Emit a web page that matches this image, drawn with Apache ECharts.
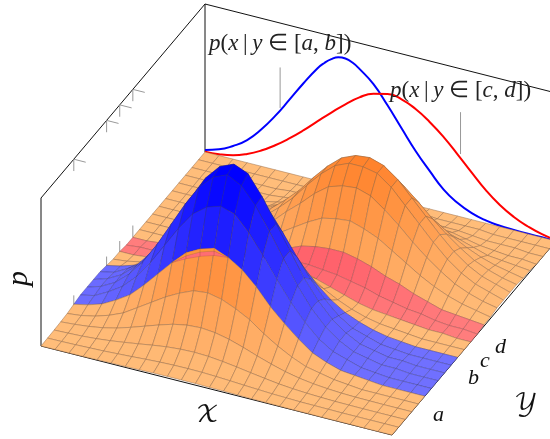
<!DOCTYPE html>
<html>
<head>
<meta charset="utf-8">
<style>
    html, body { margin: 0; padding: 0; background: #fff; }
    #echart { width: 550px; height: 439px; }
</style>
<script src="https://cdn.jsdelivr.net/npm/echarts@6/dist/echarts.min.js"></script>
</head>
<body>
<div id="echart"></div>
<script>
    // surface height p (in %), one row per y sample, one column per x sample
    var surface = [
        [0,0.1,0.1,0.2,0.3,0.5,0.6,0.8,1,1.1,1.1,1.1,0.9,0.8,0.6,0.4,0.3,0.2,0.1,0.1,0,0,0,0,0,0],
        [0.1,0.2,0.4,0.7,1,1.5,2,2.6,3.1,3.4,3.5,3.4,3,2.5,1.9,1.4,0.9,0.6,0.3,0.2,0.1,0,0,0,0,0],
        [0.3,0.6,1,1.7,2.7,4,5.4,6.9,8.2,9,9.3,8.9,7.9,6.6,5.1,3.7,2.4,1.5,0.9,0.5,0.2,0.1,0,0,0,0],
        [0.6,1.3,2.3,3.8,6,8.9,12.1,15.3,18.2,20,20.6,19.7,17.6,14.6,11.2,8.1,5.4,3.4,2,1.1,0.5,0.2,0.1,0,0,0],
        [1,2,4,7,11,17,23,29,34,38,39,37,33,28,21,15,10,6,4,2,1,0,0,0,0,0],
        [2,4,7,12,18,27,37,47,56,61,63,60,54,45,34,25,17,10,6,3,2,1,0,0,0,0],
        [3,5,10,16,25,37,51,65,77,84,87,84,74,61,47,34,23,14,8,5,2,1,0,0,0,0],
        [3,6,11,19,30,44,60,76,90,99,103,98,87,72,56,40,27,17,10,5,3,1,1,0,0,0],
        [3,6,11,19,30,44,60,76,91,101,105,101,88,72,56,40,27,17,10,5,3,1,1,0,0,0],
        [3,5,10,16,25,37,51,65,77,84,87,84,74,61,47,34,23,14,8,5,2,1,0,0,0,0],
        [2,4,7,12,19,27,37,47,56,62,63,61,54,45,35,25,17,11,7,4,2,1,0,0,0,0],
        [1,2,4,7,11,17,23,29,35,39,40,38,35,29,23,17,12,8,5,3,2,1,0,0,0,0],
        [1,1,2,4,6,9,13,16,19,22,23,23,21,19,16,13,10,7,5,4,3,2,1,1,0,0],
        [0,1,1,2,3,5,7,9,11,14,15,17,18,18,17,16,14,12,9,7,5,4,2,1,1,0],
        [0,0,1,1,2,3,4,7,9,12,16,19,23,25,26,26,24,21,17,14,10,7,4,3,2,1],
        [0,0,0,1,2,3,5,8,12,16,22,28,34,39,41,42,39,35,29,23,17,12,8,5,3,1],
        [0,0,0,1,2,3,6,10,15,22,31,39,48,55,58,59,56,49,41,32,24,17,11,7,4,2],
        [0,0,0,1,2,4,7,11,18,26,35,46,56,64,68,68,66,59,49,39,29,20,13,8,5,2],
        [0,0,0,1,2,4,7,11,18,26,35,46,56,64,68,69,66,59,49,39,29,20,13,8,5,2],
        [0,0,0,1,2,3,6,10,15,22,30,39,48,54,58,59,56,49,41,32,24,17,11,7,4,2],
        [0,0,0,1,1,2,4,7,10,15,21,27,33,38,41,41,39,35,29,23,17,12,8,5,3,1],
        [0,0,0,0,1,1,2,4,6,9,12,16,20,22,24,24,23,20,17,13,10,7,4,3,2,1],
        [0,0,0,0,0,1,1,2,3,4,6,8,10,11,12,12,11,10,8,7,5,3,2,1,1,0],
        [0,0,0,0,0,0,0,1,1,2,3,3,4,5,5,5,5,4,3,3,2,1,1,1,0,0],
        [0,0,0,0,0,0,0,0,0,1,1,1,1,2,2,2,2,1,1,1,1,0,0,0,0,0],
        [0,0,0,0,0,0,0,0,0,0,0,0,0,0,0,0,0,0,0,0,0,0,0,0,0,0]
    ];
    // conditional curves on the back wall, same scale; x given in grid cells
    var blueX = [0,1,2,3,4,5,6,7,8,8.5,9,9.5,10,10.5,11,12,13,14,15,16,17,18,19,20,21,22,23,24,25];
    var blueCurve = [1.4,4.2,8.9,15.3,24.8,36.4,49.6,63.1,75.7,80.6,84.4,86.8,87.2,85.7,82.6,74.7,62.8,49.7,36.8,25.7,15.5,8.8,4.4,1.9,0.7,0.3,0.1,0.1,0];
    var redX = [0,1,2,3,4,5,6,7,8,9,10,11,12,13,14,15,16,17,18,19,20,21,22,23,24,25];
    var redCurve = [0.2,0.9,2.6,5.9,10.6,16.6,23.6,31.4,39.9,48.3,56.3,63.4,68.2,70.5,69.3,65.1,58.8,51,41.6,31.8,22.3,14.7,9,5,2.2,0.7];
    var yTicks = [0.2, 0.4, 0.48, 0.56];
    var blueRows = [5, 10];
    var redRows = [12, 14];
    // sliver on top of the front ridge where the far bands show through (row 5, from column 7)
    var capStart = 7;
    var capLow = [47, 52, 56, 59, 60];
    var capMid = [47, 54, 59, 62, 60];
    var capHigh = [47, 56, 61, 64, 60];

    var cells = 25;
    var serif = '"Liberation Serif", serif';

    // oblique view of the (x, y, p) box on the page
    function project(x, y, p) {
        return [41 + 351 * x + 164 * y, 346 + 89 * x - 194 * y - 148 * p];
    }

    function inBand(row, band) {
        return row >= band[0] && row < band[1];
    }

    function cellColor(row, p) {
        var t = Math.min(p, 1);
        if (inBand(row, blueRows)) {
            return 'rgb(' + Math.round(112 * (1 - t)) + ',' + Math.round(112 * (1 - t)) + ',255)';
        }
        if (inBand(row, redRows)) {
            return 'rgb(255,' + Math.round(125 * (1 - t)) + ',' + Math.round(125 - 80 * t) + ')';
        }
        var s = Math.min(p / 0.7, 1);
        return 'rgb(255,' + Math.round(189 - 60 * s) + ',' + Math.round(122 - 80 * s) + ')';
    }

    function cellStroke(row) {
        if (inBand(row, blueRows)) {
            return 'rgba(50,50,120,0.45)';
        }
        if (inBand(row, redRows)) {
            return 'rgba(150,70,70,0.5)';
        }
        return 'rgba(150,105,70,0.6)';
    }

    function curveData(xs, values) {
        return values.map(function(v, i) {
            return project(xs[i] / cells, 1, v / 100);
        });
    }

    // back to front so nearer cells cover the ones behind
    var cellData = [];
    for (var j = cells - 1; j >= 0; j--) {
        for (var i = 0; i < cells; i++) {
            cellData.push([i, j]);
        }
    }

    var frame = [
        [[0, 1, 0], [0, 1, 1]],
        [[0, 0, 0], [0, 0, 1]],
        [[0, 0, 1], [0, 1, 1]],
        [[0, 1, 1], [1, 1, 1]],
        [[0, 0, 0], [1, 0, 0]],
        [[1, 0, 0], [1, 1, 0]]
    ];
    var tickSegs = [];
    yTicks.forEach(function(y) {
        tickSegs.push([[0, y, 1], [0, y, 0.92]]);
        tickSegs.push([[0, y, 1], [0.034, y, 1]]);
        tickSegs.push([[0, y, 0], [0, y, 0.08]]);
    });
    var pinSegs = [
        [[0.214, 1, 0.70], [0.214, 1, 0.426]],
        [[0.728, 1, 0.707], [0.728, 1, 0.424]]
    ];

    function segmentSeries(segs, color, z) {
        return {
            type: 'custom',
            coordinateSystem: 'cartesian2d',
            silent: true,
            z: z,
            data: segs.map(function(s, idx) { return [idx]; }),
            renderItem: function(params, api) {
                var s = segs[api.value(0)];
                var a = api.coord(project(s[0][0], s[0][1], s[0][2]));
                var b = api.coord(project(s[1][0], s[1][1], s[1][2]));
                return {
                    type: 'line',
                    shape: {x1: a[0], y1: a[1], x2: b[0], y2: b[1]},
                    style: {stroke: color, lineWidth: 1}
                };
            }
        };
    }

    function curveSeries(xs, values, color) {
        return {
            type: 'line',
            data: curveData(xs, values),
            smooth: true,
            showSymbol: false,
            silent: true,
            z: 3,
            lineStyle: {color: color, width: 2}
        };
    }

    function capSeries(lower, upper, fill, stroke) {
        return {
            type: 'custom',
            coordinateSystem: 'cartesian2d',
            silent: true,
            z: 6,
            data: lower.slice(1).map(function(v, idx) { return [idx]; }),
            renderItem: function(params, api) {
                var k = api.value(0);
                var x0 = (capStart + k) / cells, x1 = (capStart + k + 1) / cells, y = blueRows[0] / cells;
                var pts = [
                    project(x0, y, lower[k] / 100),
                    project(x1, y, lower[k + 1] / 100),
                    project(x1, y, upper[k + 1] / 100),
                    project(x0, y, upper[k] / 100)
                ].map(function(q) { return api.coord(q); });
                return {
                    type: 'polygon',
                    shape: {points: pts},
                    style: {fill: fill, stroke: stroke, lineWidth: 0.6}
                };
            }
        };
    }

    function mathLabel(parts, left, top, size) {
        var text = parts.map(function(p) {
            return '{' + p[0] + '|' + p[1] + '}';
        }).join('');
        return {
            type: 'text',
            left: left,
            top: top,
            silent: true,
            z: 10,
            style: {
                text: text,
                rich: {
                    i: {fontFamily: serif, fontStyle: 'italic', fontSize: size, fill: '#222'},
                    r: {fontFamily: serif, fontSize: size, fill: '#222'}
                }
            }
        };
    }

    function plainLabel(text, left, top, size, rotation, family) {
        return {
            type: 'text',
            left: left,
            top: top,
            rotation: rotation || 0,
            silent: true,
            z: 10,
            style: {
                text: text,
                fontFamily: family || serif,
                fontStyle: family ? 'normal' : 'italic',
                fontSize: size,
                fill: '#111'
            }
        };
    }

    var mathFont = '"DejaVu Math TeX Gyre", "DejaVu Sans", serif';

    var option = {
        animation: false,
        grid: {left: 0, right: 0, top: 0, bottom: 0},
        xAxis: {type: 'value', min: 0, max: 550, show: false},
        yAxis: {type: 'value', min: 0, max: 439, inverse: true, show: false},
        series: [
            segmentSeries(frame, '#111', 2),
            segmentSeries(tickSegs, '#999', 2),
            segmentSeries(pinSegs, '#999', 2),
            curveSeries(blueX, blueCurve, '#0000ff'),
            curveSeries(redX, redCurve, '#ff0000'),
            {
                type: 'custom',
                coordinateSystem: 'cartesian2d',
                silent: true,
                z: 5,
                data: cellData,
                renderItem: function(params, api) {
                    var i = api.value(0), j = api.value(1);
                    var p00 = surface[j][i] / 100, p10 = surface[j][i + 1] / 100;
                    var p01 = surface[j + 1][i] / 100, p11 = surface[j + 1][i + 1] / 100;
                    var pts = [
                        project(i / cells, j / cells, p00),
                        project((i + 1) / cells, j / cells, p10),
                        project((i + 1) / cells, (j + 1) / cells, p11),
                        project(i / cells, (j + 1) / cells, p01)
                    ].map(function(q) { return api.coord(q); });
                    return {
                        type: 'polygon',
                        shape: {points: pts},
                        style: {
                            fill: cellColor(j, (p00 + p10 + p01 + p11) / 4),
                            stroke: cellStroke(j),
                            lineWidth: 0.8
                        }
                    };
                }
            },
            capSeries(capLow, capMid, 'rgb(255,110,115)', 'rgba(150,70,70,0.4)'),
            capSeries(capMid, capHigh, 'rgb(255,148,60)', 'rgba(150,105,70,0.4)')
        ],
        graphic: [
            mathLabel([['i', 'p'], ['r', '('], ['i', 'x'], ['r', '\u2009|\u2009'], ['i', 'y'], ['r', ' ∈ ['], ['i', 'a'], ['r', ', '], ['i', 'b'], ['r', '])']], 209, 32, 23),
            mathLabel([['i', 'p'], ['r', '('], ['i', 'x'], ['r', '\u2009|\u2009'], ['i', 'y'], ['r', ' ∈ ['], ['i', 'c'], ['r', ', '], ['i', 'd'], ['r', '])']], 390, 79, 23),
            plainLabel('a', 433, 404, 22),
            plainLabel('b', 468, 367, 22),
            plainLabel('c', 480, 350, 22),
            plainLabel('d', 495, 336, 22),
            plainLabel('p', 4, 271, 30, Math.PI / 2),
            plainLabel('𝒳', 196, 403, 24, 0, mathFont),
            plainLabel('𝒴', 514, 391, 24, 0, mathFont)
        ]
    };

    var myChart = echarts.init(document.getElementById('echart'));
    myChart.setOption(option);
</script>
</body>
</html>
